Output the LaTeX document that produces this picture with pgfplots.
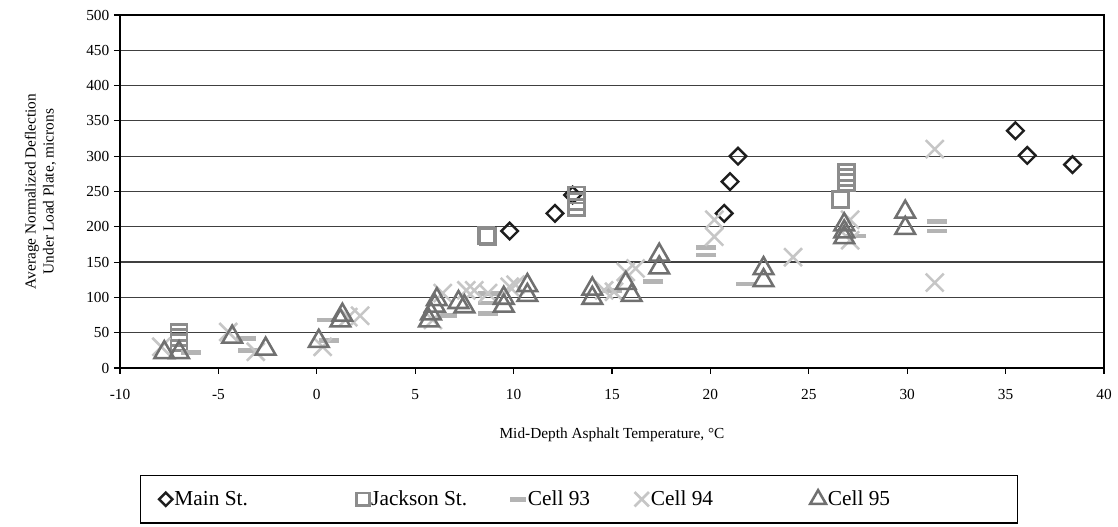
\documentclass[border=0pt]{standalone}
\usepackage{fontspec}
\setmainfont{Liberation Serif}
\usepackage{pgfplots}
\pgfplotsset{compat=1.18}

\definecolor{mainc}{HTML}{1E1E1E}
\definecolor{jackc}{HTML}{8C8C8C}
\definecolor{c93}{HTML}{B4B4B4}
\definecolor{c94}{HTML}{C6C6C6}
\definecolor{c95}{HTML}{707070}
\definecolor{gridc}{HTML}{404040}

\begin{document}
\begin{tikzpicture}
\useasboundingbox (0,0) rectangle (838.5pt,395.25pt);
\begin{axis}[
  at={(90pt,119.25pt)}, anchor=south west,
  scale only axis, width=738pt, height=264.75pt,
  xmin=-10, xmax=40, ymin=0, ymax=500,
  xtick={-10,-5,...,40}, ytick={0,50,...,500},
  tick pos=left, tick align=outside, major tick length=4.5pt,
  tick style={black, line width=0.8pt},
  axis line style={black, line width=1.4pt},
  ymajorgrids, grid style={gridc, line width=0.9pt},
  /pgf/number format/assume math mode=true,
  ticklabel style={font=\fontsize{11.5}{13}\selectfont},
  xticklabel style={yshift=-8pt},
  xlabel={Mid-Depth Asphalt Temperature, °C},
  ylabel={Average Normalized Deflection\\Under Load Plate, microns},
  xlabel style={font=\fontsize{11.5}{13}\selectfont, at={(axis description cs:0.5,-0.19)}, anchor=center},
  ylabel style={font=\fontsize{11.5}{13.5}\selectfont, align=center, at={(axis description cs:-0.081,0.5)}, anchor=center},
  legend columns=5,
  legend style={at={(axis description cs:0.0203,-0.3031)}, anchor=north west,
    draw=black, line width=0.8pt, inner xsep=14pt, inner ysep=10pt,
    font=\fontsize{16}{18}\selectfont, nodes={inner sep=1.5pt}},
  legend image code/.code={\draw[mark repeat=2,mark phase=2,every mark/.append style={scale=0.8}] plot coordinates {(0pt,0pt) (7pt,0pt) (14pt,0pt)};},
]
% Main St.
\addplot[only marks, mark=square, mark size=4.4pt, mark options={rotate=45, draw=mainc, line width=1.8pt}] coordinates {
  (9.8,194) (12.1,219) (13.0,245) (20.7,219) (21.0,264) (21.4,300)
  (35.5,336) (36.1,301) (38.4,288)
};
\addlegendentry{\makebox[135pt][l]{Main St.}}
% Jackson St.
\addplot[only marks, mark=square, mark size=6pt, mark options={draw=jackc, line width=2pt}] coordinates {
  (-7.0,50) (-7.0,43) (-7.0,36) (8.6,188) (8.7,186)
  (13.2,245) (13.2,236) (13.2,227)
  (26.9,277) (26.9,270) (26.9,263) (26.6,239)
};
\addlegendentry{\makebox[102.5pt][l]{Jackson St.}}
% Cell 93
\addplot[only marks, mark=-, mark size=7.5pt, mark options={draw=c93, line width=3.6pt}] coordinates {
  (-6.4,22) (-3.6,42) (-3.5,25) (0.5,68) (0.6,39) (6.6,74)
  (8.7,106) (8.7,92) (8.7,77) (9.1,106) (15.0,110) (17.1,122)
  (19.8,171) (19.8,160) (21.8,119) (27.4,187) (31.5,207) (31.5,194)
};
\addlegendentry{\makebox[78.5pt][l]{Cell 93}}
% Cell 94
\addplot[only marks, mark=x, mark size=9.5pt, mark options={draw=c94, line width=1.9pt}] coordinates {
  (-7.9,30) (-4.5,51) (-3.1,23) (0.3,30) (1.6,72) (2.2,74)
  (5.9,68) (6.4,106) (7.6,110) (8.0,110) (8.7,106) (9.8,115)
  (10.1,118) (14.6,110) (15.1,108) (15.7,136) (16.2,141)
  (20.2,210) (20.2,186) (24.2,157) (27.1,210) (27.1,181)
  (31.4,310) (31.4,121)
};
\addlegendentry{\makebox[118pt][l]{Cell 94}}
% Cell 95
\addplot[only marks, mark=triangle, mark size=8.5pt, mark options={draw=c95, line width=1.9pt}] coordinates {
  (-7.75,22) (-7.0,22) (-4.3,44) (-2.6,27) (0.1,38) (1.2,67) (1.3,75)
  (5.7,67) (5.8,77) (6.0,88) (6.1,97) (7.2,93) (7.5,87)
  (9.5,99) (9.5,88) (10.7,117) (10.7,103) (14.0,112) (14.0,99)
  (15.7,120) (16.0,103) (17.4,160) (17.4,142) (22.7,141) (22.7,124)
  (26.8,203) (26.8,193) (26.8,185) (29.9,221) (29.9,198)
};
\addlegendentry{\makebox[127pt][l]{Cell 95}}
\end{axis}
\end{tikzpicture}
\end{document}
